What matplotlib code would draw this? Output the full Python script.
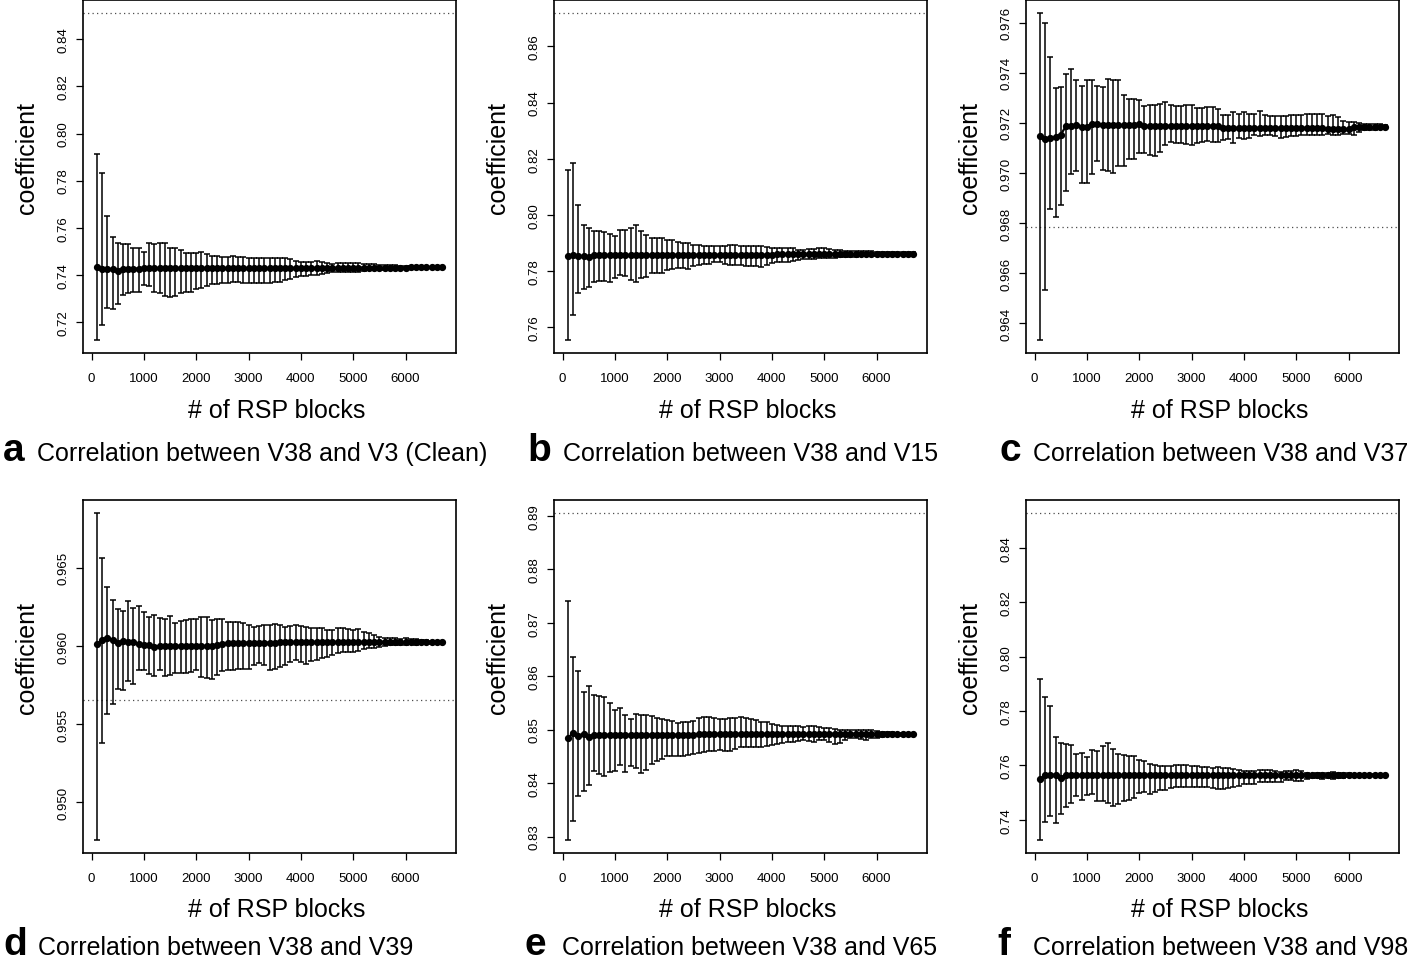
import numpy as np
import matplotlib
matplotlib.use("Agg")
import matplotlib.pyplot as plt

plt.rcParams['font.family'] = ['Liberation Sans', 'DejaVu Sans']

# number of RSP blocks (x values, same for every panel)
blocks = [100, 200, 300, 400, 500, 600, 700, 800, 900, 1000,
          1100, 1200, 1300, 1400, 1500, 1600, 1700, 1800, 1900, 2000,
          2100, 2200, 2300, 2400, 2500, 2600, 2700, 2800, 2900, 3000,
          3100, 3200, 3300, 3400, 3500, 3600, 3700, 3800, 3900, 4000,
          4100, 4200, 4300, 4400, 4500, 4600, 4700, 4800, 4900, 5000,
          5100, 5200, 5300, 5400, 5500, 5600, 5700, 5800, 5900, 6000,
          6100, 6200, 6300, 6400, 6500, 6600, 6700]

# ---- panel a : V38 vs V3 (Clean)
a_mean = [0.7431, 0.7425, 0.7424, 0.7424, 0.7416, 0.7425, 0.7426, 0.7426, 0.7426, 0.7427,
          0.7427, 0.7427, 0.7427, 0.7427, 0.7427, 0.7427, 0.7427, 0.7427, 0.7427, 0.7428,
          0.7428, 0.7428, 0.7428, 0.7428, 0.7428, 0.7428, 0.7428, 0.7428, 0.7428, 0.7428,
          0.7428, 0.7428, 0.7428, 0.7428, 0.7428, 0.7428, 0.7428, 0.7428, 0.7428, 0.7428,
          0.7429, 0.7429, 0.7429, 0.7429, 0.7429, 0.7429, 0.7429, 0.7429, 0.7429, 0.7429,
          0.7430, 0.7430, 0.7430, 0.7430, 0.7430, 0.7430, 0.7430, 0.7430, 0.7430, 0.7430,
          0.7431, 0.7431, 0.7431, 0.7431, 0.7431, 0.7431, 0.7431]
a_hi = [0.7914, 0.7833, 0.7651, 0.7562, 0.7536, 0.7532, 0.7531, 0.7514, 0.7512, 0.7498,
        0.7535, 0.7531, 0.7534, 0.7534, 0.7515, 0.7512, 0.7507, 0.7494, 0.7492, 0.7494,
        0.7495, 0.7490, 0.7481, 0.7481, 0.7475, 0.7475, 0.7478, 0.7477, 0.7474, 0.7473,
        0.7471, 0.7471, 0.7473, 0.7473, 0.7473, 0.7473, 0.7470, 0.7467, 0.7460, 0.7456,
        0.7453, 0.7453, 0.7457, 0.7456, 0.7450, 0.7446, 0.7450, 0.7451, 0.7451, 0.7450,
        0.7450, 0.7447, 0.7446, 0.7446, 0.7443, 0.7440, 0.7440, 0.7440, 0.7439, 0.7439,
        0.7437, 0.7437, 0.7436, 0.7436, 0.7435, 0.7435, 0.7434]
a_lo = [0.7123, 0.7186, 0.7257, 0.7254, 0.7274, 0.7316, 0.7321, 0.7325, 0.7328, 0.7356,
        0.7353, 0.7328, 0.7322, 0.7311, 0.7305, 0.7311, 0.7321, 0.7328, 0.7328, 0.7339,
        0.7342, 0.7353, 0.7360, 0.7360, 0.7365, 0.7367, 0.7370, 0.7370, 0.7367, 0.7366,
        0.7365, 0.7365, 0.7367, 0.7367, 0.7370, 0.7371, 0.7378, 0.7382, 0.7389, 0.7393,
        0.7396, 0.7399, 0.7399, 0.7403, 0.7407, 0.7410, 0.7410, 0.7410, 0.7411, 0.7410,
        0.7413, 0.7416, 0.7419, 0.7420, 0.7419, 0.7422, 0.7422, 0.7424, 0.7424, 0.7425,
        0.7425, 0.7426, 0.7426, 0.7427, 0.7427, 0.7428, 0.7428]
a_ref = 0.8512

# ---- panel b : V38 vs V15
b_mean = [0.7854, 0.7856, 0.7852, 0.7852, 0.7849, 0.7855, 0.7855, 0.7855, 0.7855, 0.7855,
          0.7856, 0.7856, 0.7856, 0.7856, 0.7856, 0.7856, 0.7856, 0.7856, 0.7856, 0.7856,
          0.7857, 0.7857, 0.7857, 0.7857, 0.7857, 0.7857, 0.7857, 0.7857, 0.7857, 0.7857,
          0.7857, 0.7857, 0.7857, 0.7857, 0.7857, 0.7857, 0.7857, 0.7857, 0.7857, 0.7857,
          0.7859, 0.7859, 0.7859, 0.7859, 0.7859, 0.7859, 0.7859, 0.7859, 0.7859, 0.7859,
          0.7859, 0.7859, 0.7859, 0.7859, 0.7859, 0.7859, 0.7859, 0.7859, 0.7859, 0.7859,
          0.7861, 0.7861, 0.7861, 0.7861, 0.7861, 0.7861, 0.7861]
b_hi = [0.8160, 0.8183, 0.8036, 0.7964, 0.7952, 0.7941, 0.7943, 0.7939, 0.7931, 0.7923,
        0.7946, 0.7946, 0.7954, 0.7965, 0.7943, 0.7927, 0.7919, 0.7917, 0.7917, 0.7911,
        0.7910, 0.7904, 0.7899, 0.7898, 0.7894, 0.7892, 0.7889, 0.7889, 0.7887, 0.7887,
        0.7889, 0.7892, 0.7892, 0.7889, 0.7889, 0.7887, 0.7889, 0.7887, 0.7886, 0.7883,
        0.7883, 0.7883, 0.7883, 0.7883, 0.7875, 0.7875, 0.7878, 0.7878, 0.7880, 0.7880,
        0.7878, 0.7875, 0.7875, 0.7872, 0.7872, 0.7872, 0.7872, 0.7872, 0.7872, 0.7869,
        0.7868, 0.7868, 0.7867, 0.7867, 0.7866, 0.7866, 0.7866]
b_lo = [0.7554, 0.7643, 0.7720, 0.7735, 0.7744, 0.7762, 0.7764, 0.7764, 0.7761, 0.7773,
        0.7786, 0.7782, 0.7767, 0.7762, 0.7776, 0.7779, 0.7792, 0.7792, 0.7791, 0.7804,
        0.7808, 0.7812, 0.7812, 0.7808, 0.7816, 0.7822, 0.7824, 0.7826, 0.7830, 0.7830,
        0.7824, 0.7822, 0.7822, 0.7822, 0.7816, 0.7818, 0.7818, 0.7815, 0.7820, 0.7827,
        0.7830, 0.7831, 0.7832, 0.7835, 0.7839, 0.7842, 0.7844, 0.7844, 0.7847, 0.7847,
        0.7847, 0.7847, 0.7848, 0.7848, 0.7851, 0.7851, 0.7852, 0.7853, 0.7853, 0.7853,
        0.7854, 0.7855, 0.7855, 0.7856, 0.7856, 0.7856, 0.7856]
b_ref = 0.8719

# ---- panel c : V38 vs V37
c_mean = [0.97146, 0.97136, 0.97139, 0.97142, 0.97153, 0.97187, 0.97187, 0.97193, 0.97183, 0.97183,
          0.97196, 0.97196, 0.97190, 0.97190, 0.97190, 0.97190, 0.97190, 0.97190, 0.97190, 0.97197,
          0.97188, 0.97188, 0.97188, 0.97188, 0.97188, 0.97188, 0.97188, 0.97188, 0.97188, 0.97188,
          0.97188, 0.97188, 0.97188, 0.97188, 0.97188, 0.97180, 0.97180, 0.97180, 0.97180, 0.97180,
          0.97180, 0.97180, 0.97180, 0.97180, 0.97180, 0.97180, 0.97180, 0.97180, 0.97180, 0.97180,
          0.97180, 0.97180, 0.97180, 0.97180, 0.97180, 0.97174, 0.97174, 0.97174, 0.97174, 0.97174,
          0.97182, 0.97182, 0.97182, 0.97182, 0.97182, 0.97182, 0.97182]
c_hi = [0.97638, 0.97597, 0.97464, 0.97341, 0.97345, 0.97396, 0.97416, 0.97372, 0.97349, 0.97372,
        0.97372, 0.97347, 0.97345, 0.97374, 0.97369, 0.97372, 0.97311, 0.97295, 0.97294, 0.97291,
        0.97268, 0.97273, 0.97273, 0.97277, 0.97284, 0.97273, 0.97268, 0.97267, 0.97273, 0.97271,
        0.97260, 0.97260, 0.97264, 0.97264, 0.97257, 0.97233, 0.97233, 0.97244, 0.97237, 0.97244,
        0.97237, 0.97235, 0.97248, 0.97233, 0.97228, 0.97228, 0.97228, 0.97228, 0.97231, 0.97231,
        0.97233, 0.97237, 0.97237, 0.97237, 0.97237, 0.97228, 0.97231, 0.97224, 0.97208, 0.97204,
        0.97204, 0.97201, 0.97197, 0.97194, 0.97197, 0.97196, 0.97193]
c_lo = [0.96334, 0.96532, 0.96858, 0.96825, 0.96872, 0.96928, 0.96995, 0.97006, 0.96959, 0.96962,
        0.96995, 0.97046, 0.97013, 0.97009, 0.96999, 0.97026, 0.97026, 0.97056, 0.97056, 0.97080,
        0.97080, 0.97073, 0.97069, 0.97083, 0.97112, 0.97123, 0.97119, 0.97119, 0.97114, 0.97112,
        0.97120, 0.97123, 0.97126, 0.97123, 0.97123, 0.97130, 0.97136, 0.97119, 0.97139, 0.97136,
        0.97139, 0.97150, 0.97147, 0.97150, 0.97153, 0.97147, 0.97139, 0.97142, 0.97147, 0.97147,
        0.97150, 0.97150, 0.97153, 0.97153, 0.97150, 0.97157, 0.97153, 0.97150, 0.97157, 0.97157,
        0.97153, 0.97163, 0.97170, 0.97173, 0.97173, 0.97177, 0.97177]
c_ref = 0.96786

# ---- panel d : V38 vs V39
d_mean = [0.96010, 0.96038, 0.96049, 0.96036, 0.96021, 0.96032, 0.96027, 0.96023, 0.96012, 0.96006,
          0.96006, 0.95995, 0.96000, 0.96000, 0.96000, 0.96000, 0.96000, 0.96000, 0.96000, 0.96000,
          0.96000, 0.96000, 0.96000, 0.96006, 0.96012, 0.96016, 0.96016, 0.96021, 0.96021, 0.96021,
          0.96021, 0.96021, 0.96021, 0.96021, 0.96021, 0.96023, 0.96023, 0.96023, 0.96023, 0.96023,
          0.96023, 0.96023, 0.96023, 0.96023, 0.96023, 0.96023, 0.96023, 0.96023, 0.96023, 0.96023,
          0.96023, 0.96023, 0.96023, 0.96023, 0.96023, 0.96023, 0.96023, 0.96023, 0.96023, 0.96023,
          0.96023, 0.96023, 0.96023, 0.96023, 0.96023, 0.96023, 0.96023]
d_hi = [0.96850, 0.96560, 0.96380, 0.96296, 0.96238, 0.96225, 0.96287, 0.96242, 0.96253, 0.96214,
        0.96188, 0.96197, 0.96178, 0.96173, 0.96193, 0.96146, 0.96161, 0.96167, 0.96171, 0.96171,
        0.96184, 0.96182, 0.96167, 0.96171, 0.96171, 0.96156, 0.96156, 0.96154, 0.96146, 0.96135,
        0.96124, 0.96128, 0.96135, 0.96135, 0.96141, 0.96135, 0.96124, 0.96130, 0.96135, 0.96130,
        0.96124, 0.96117, 0.96117, 0.96113, 0.96102, 0.96102, 0.96113, 0.96113, 0.96109, 0.96102,
        0.96109, 0.96087, 0.96081, 0.96070, 0.96060, 0.96053, 0.96049, 0.96049, 0.96045, 0.96049,
        0.96042, 0.96045, 0.96038, 0.96036, 0.96034, 0.96032, 0.96032]
d_lo = [0.94759, 0.95376, 0.95563, 0.95628, 0.95722, 0.95718, 0.95776, 0.95755, 0.95845, 0.95845,
        0.95823, 0.95806, 0.95845, 0.95806, 0.95812, 0.95827, 0.95827, 0.95830, 0.95834, 0.95845,
        0.95802, 0.95797, 0.95791, 0.95812, 0.95838, 0.95845, 0.95845, 0.95855, 0.95851, 0.95855,
        0.95877, 0.95888, 0.95877, 0.95845, 0.95855, 0.95866, 0.95877, 0.95898, 0.95909, 0.95898,
        0.95883, 0.95903, 0.95909, 0.95920, 0.95931, 0.95941, 0.95952, 0.95963, 0.95963, 0.95963,
        0.95967, 0.95978, 0.95984, 0.95989, 0.95995, 0.96002, 0.96006, 0.96006, 0.96006, 0.96006,
        0.96010, 0.96006, 0.96010, 0.96010, 0.96012, 0.96012, 0.96014]
d_ref = 0.95651

# ---- panel e : V38 vs V65
e_mean = [0.84840, 0.84939, 0.84889, 0.84921, 0.84858, 0.84902, 0.84902, 0.84902, 0.84902, 0.84902,
          0.84902, 0.84902, 0.84902, 0.84902, 0.84902, 0.84902, 0.84902, 0.84902, 0.84902, 0.84902,
          0.84902, 0.84902, 0.84902, 0.84902, 0.84902, 0.84921, 0.84921, 0.84921, 0.84921, 0.84921,
          0.84921, 0.84921, 0.84921, 0.84921, 0.84921, 0.84921, 0.84921, 0.84921, 0.84921, 0.84921,
          0.84921, 0.84921, 0.84921, 0.84921, 0.84921, 0.84921, 0.84921, 0.84921, 0.84921, 0.84921,
          0.84921, 0.84921, 0.84921, 0.84921, 0.84921, 0.84921, 0.84921, 0.84921, 0.84921, 0.84921,
          0.84921, 0.84921, 0.84921, 0.84921, 0.84921, 0.84921, 0.84921]
e_hi = [0.87398, 0.86360, 0.86091, 0.85697, 0.85809, 0.85640, 0.85621, 0.85609, 0.85503, 0.85359,
        0.85409, 0.85265, 0.85202, 0.85296, 0.85277, 0.85265, 0.85252, 0.85215, 0.85202, 0.85171,
        0.85158, 0.85121, 0.85140, 0.85140, 0.85158, 0.85215, 0.85227, 0.85227, 0.85215, 0.85202,
        0.85202, 0.85215, 0.85215, 0.85227, 0.85215, 0.85202, 0.85184, 0.85140, 0.85140, 0.85108,
        0.85089, 0.85077, 0.85064, 0.85077, 0.85077, 0.85046, 0.85064, 0.85064, 0.85046, 0.85027,
        0.85027, 0.85015, 0.85002, 0.85002, 0.85002, 0.84990, 0.84990, 0.84990, 0.84990, 0.84983,
        0.84964, 0.84952, 0.84952, 0.84946, 0.84946, 0.84939, 0.84939]
e_lo = [0.82937, 0.83294, 0.83763, 0.83857, 0.83963, 0.84233, 0.84170, 0.84139, 0.84214, 0.84233,
        0.84339, 0.84214, 0.84326, 0.84276, 0.84189, 0.84245, 0.84358, 0.84420, 0.84452, 0.84514,
        0.84514, 0.84501, 0.84514, 0.84526, 0.84545, 0.84564, 0.84589, 0.84595, 0.84608, 0.84627,
        0.84608, 0.84608, 0.84639, 0.84670, 0.84670, 0.84670, 0.84670, 0.84670, 0.84702, 0.84714,
        0.84733, 0.84752, 0.84764, 0.84777, 0.84796, 0.84814, 0.84783, 0.84777, 0.84814, 0.84814,
        0.84777, 0.84733, 0.84752, 0.84814, 0.84839, 0.84839, 0.84827, 0.84814, 0.84839, 0.84839,
        0.84858, 0.84877, 0.84877, 0.84883, 0.84883, 0.84889, 0.84889]
e_ref = 0.89050

# ---- panel f : V38 vs V98
f_mean = [0.75485, 0.75632, 0.75657, 0.75657, 0.75534, 0.75645, 0.75645, 0.75645, 0.75645, 0.75645,
          0.75645, 0.75645, 0.75645, 0.75645, 0.75645, 0.75645, 0.75645, 0.75645, 0.75645, 0.75645,
          0.75645, 0.75645, 0.75645, 0.75645, 0.75645, 0.75645, 0.75645, 0.75645, 0.75645, 0.75645,
          0.75645, 0.75645, 0.75645, 0.75645, 0.75645, 0.75645, 0.75645, 0.75645, 0.75645, 0.75645,
          0.75645, 0.75645, 0.75645, 0.75645, 0.75645, 0.75645, 0.75645, 0.75645, 0.75645, 0.75645,
          0.75645, 0.75645, 0.75645, 0.75645, 0.75645, 0.75645, 0.75645, 0.75645, 0.75645, 0.75645,
          0.75645, 0.75645, 0.75645, 0.75645, 0.75645, 0.75645, 0.75645]
f_hi = [0.79166, 0.78515, 0.78184, 0.77055, 0.76834, 0.76773, 0.76761, 0.76429, 0.76454, 0.76307,
        0.76577, 0.76528, 0.76700, 0.76822, 0.76613, 0.76405, 0.76393, 0.76331, 0.76331, 0.76184,
        0.76147, 0.76061, 0.76000, 0.75975, 0.75975, 0.75975, 0.76024, 0.76000, 0.76000, 0.75975,
        0.75975, 0.75939, 0.75939, 0.75902, 0.75939, 0.75914, 0.75902, 0.75877, 0.75840, 0.75791,
        0.75779, 0.75779, 0.75816, 0.75840, 0.75840, 0.75779, 0.75755, 0.75779, 0.75804, 0.75816,
        0.75791, 0.75718, 0.75693, 0.75718, 0.75730, 0.75730, 0.75755, 0.75730, 0.75718, 0.75730,
        0.75693, 0.75693, 0.75681, 0.75681, 0.75669, 0.75669, 0.75669]
f_lo = [0.73264, 0.73914, 0.74135, 0.73877, 0.74221, 0.74491, 0.74626, 0.74871, 0.74736, 0.74920,
        0.74957, 0.74712, 0.74687, 0.74626, 0.74503, 0.74589, 0.74712, 0.74749, 0.74810, 0.74994,
        0.75018, 0.74957, 0.75043, 0.75104, 0.75117, 0.75166, 0.75202, 0.75202, 0.75227, 0.75202,
        0.75227, 0.75227, 0.75202, 0.75178, 0.75141, 0.75141, 0.75166, 0.75202, 0.75264, 0.75325,
        0.75325, 0.75325, 0.75386, 0.75411, 0.75411, 0.75386, 0.75411, 0.75448, 0.75448, 0.75435,
        0.75435, 0.75509, 0.75534, 0.75534, 0.75509, 0.75534, 0.75509, 0.75534, 0.75558, 0.75571,
        0.75583, 0.75583, 0.75595, 0.75595, 0.75607, 0.75607, 0.75607]
f_ref = 0.85276

letters = ["a", "b", "c", "d", "e", "f"]
captions = ["Correlation between V38 and V3 (Clean)", "Correlation between V38 and V15",
            "Correlation between V38 and V37", "Correlation between V38 and V39",
            "Correlation between V38 and V65", "Correlation between V38 and V98"]
yticks = [[0.72, 0.74, 0.76, 0.78, 0.80, 0.82, 0.84],
          [0.76, 0.78, 0.80, 0.82, 0.84, 0.86],
          [0.964, 0.966, 0.968, 0.970, 0.972, 0.974, 0.976],
          [0.950, 0.955, 0.960, 0.965],
          [0.83, 0.84, 0.85, 0.86, 0.87, 0.88, 0.89],
          [0.74, 0.76, 0.78, 0.80, 0.82, 0.84]]
ytick_fmt = ["%.2f", "%.2f", "%.3f", "%.3f", "%.2f", "%.2f"]
xticks = [0, 1000, 2000, 3000, 4000, 5000, 6000]

panels = [(a_mean, a_lo, a_hi, a_ref), (b_mean, b_lo, b_hi, b_ref), (c_mean, c_lo, c_hi, c_ref),
          (d_mean, d_lo, d_hi, d_ref), (e_mean, e_lo, e_hi, e_ref), (f_mean, f_lo, f_hi, f_ref)]

W, H = 1419, 970
fig = plt.figure(figsize=(W / 100, H / 100), dpi=100)

# axes boxes in pixels (left, top)
ax_w, ax_h = 373, 353
lefts = [83, 554, 1026]
tops = [1, 501]
letter_x = [3, 527, 1000, 3, 525, 997]
text_x = [37, 563, 1033, 38, 562, 1033]
cap_base = [461, 955]
xlab_base = [418, 917]


def r_panel(ax, mean, lo, hi, ref, ticks, fmt):
    x = np.array(blocks)
    mean = np.array(mean)
    lo = np.array(lo)
    hi = np.array(hi)
    yerr = [np.maximum(mean - lo, 0), np.maximum(hi - mean, 0)]
    ax.errorbar(x, mean, yerr=yerr, fmt="o-", color="black", ms=4.2, lw=1.6,
                elinewidth=1.1, capsize=2.4, capthick=1.1, zorder=3)
    ax.axhline(ref, color="0.3", lw=0.9, linestyle=(0, (1, 2.6)), zorder=2)
    # R style 4% padding
    ymin = min(lo.min(), ref)
    ymax = max(hi.max(), ref)
    pad = (ymax - ymin) * 0.04
    ax.set_ylim(ymin - pad, ymax + pad)
    xpad = (x.max() - x.min()) * 0.04
    ax.set_xlim(x.min() - xpad, x.max() + xpad)
    ax.set_xticks(xticks)
    ax.set_xticklabels([str(t) for t in xticks])
    ax.set_yticks(ticks)
    ax.set_yticklabels([fmt % t for t in ticks])
    ax.tick_params(axis="both", direction="out", length=5, width=0.9, labelsize=9.5, color="black")
    ax.tick_params(axis="x", pad=9)
    ax.tick_params(axis="y", pad=5, labelrotation=90)
    for lab in ax.get_yticklabels():
        lab.set_va("center")
    for sp in ax.spines.values():
        sp.set_linewidth(1.2)
        sp.set_color("black")


for i, (mean, lo, hi, ref) in enumerate(panels):
    row, col = divmod(i, 3)
    left = lefts[col]
    top = tops[row]
    ax = fig.add_axes([left / W, 1 - (top + ax_h) / H, ax_w / W, ax_h / H])
    r_panel(ax, mean, lo, hi, ref, yticks[i], ytick_fmt[i])

    # axis titles
    fig.text((left + ax_w / 2 + 7) / W, 1 - xlab_base[row] / H, "# of RSP blocks",
             fontsize=18, ha="center", va="baseline")
    fig.text((left - 56) / W, 1 - (top + 157) / H, "coefficient", fontsize=18,
             rotation=90, ha="center", va="center")

    # panel letter + caption
    fig.text(letter_x[i] / W, 1 - cap_base[row] / H, letters[i], fontsize=28,
             fontweight="bold", ha="left", va="baseline")
    fig.text(text_x[i] / W, 1 - cap_base[row] / H, captions[i], fontsize=18,
             ha="left", va="baseline")

fig.savefig("out.png", dpi=100)
